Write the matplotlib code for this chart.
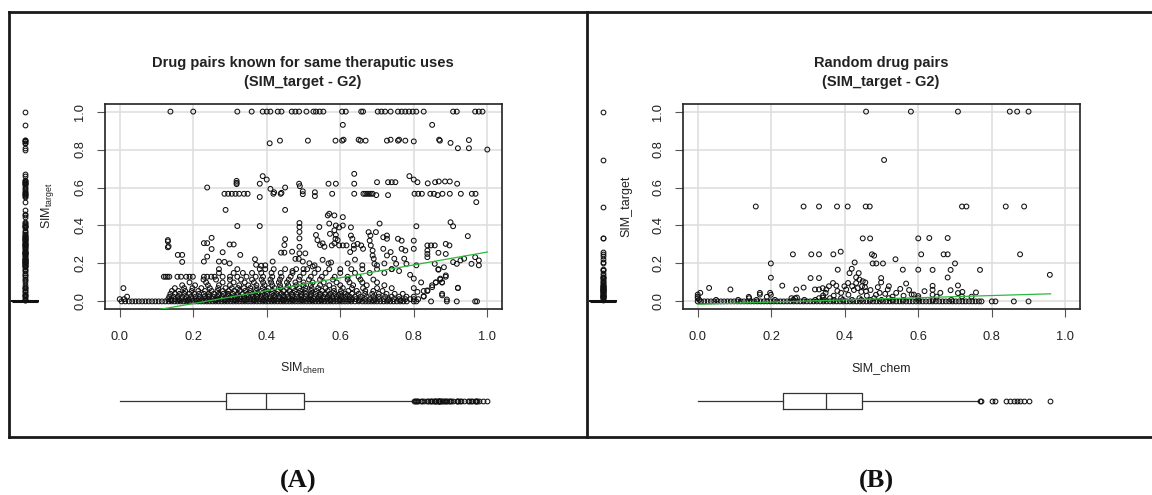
import numpy as np
import matplotlib.pyplot as plt
from matplotlib.lines import Line2D

plt.rcParams['font.family'] = ['Liberation Sans', 'DejaVu Sans']
plt.rcParams['mathtext.fontset'] = 'custom'
plt.rcParams['mathtext.rm'] = 'Liberation Sans'
plt.rcParams['mathtext.it'] = 'Liberation Sans'

# ---------------- data: panel A (known same therapeutic uses) ----------------
a_zero_x = [0.005, 0.015, 0.025, 0.034, 0.043, 0.052, 0.061, 0.070, 0.079, 0.088, 0.097, 0.106,
            0.115, 0.124, 0.133, 0.141, 0.149, 0.157, 0.165, 0.173, 0.181, 0.189, 0.197, 0.205,
            0.213, 0.221, 0.229, 0.237, 0.245, 0.253, 0.261, 0.269, 0.277, 0.285, 0.293, 0.301,
            0.309, 0.317, 0.325, 0.333, 0.341, 0.349, 0.357, 0.365, 0.373, 0.381, 0.389, 0.397,
            0.405, 0.413, 0.421, 0.429, 0.437, 0.445, 0.453, 0.461, 0.469, 0.477, 0.485, 0.493,
            0.501, 0.509, 0.517, 0.525, 0.533, 0.541, 0.549, 0.557, 0.565, 0.573, 0.581, 0.589,
            0.597, 0.605, 0.613, 0.621, 0.630, 0.640, 0.650, 0.660, 0.668, 0.676, 0.684, 0.692,
            0.700, 0.709, 0.718, 0.727, 0.736, 0.745, 0.754, 0.763, 0.772, 0.781, 0.800, 0.807,
            0.847, 0.890, 0.917, 0.967, 0.972]

a_band_y = [0.006, 0.012, 0.025, 0.033, 0.04, 0.055, 0.07, 0.085, 0.10, 0.115, 0.13, 0.15, 0.17]
a_band_x = [
    [0.140, 0.162, 0.185, 0.210, 0.236, 0.262, 0.288, 0.314, 0.340, 0.366, 0.392, 0.418, 0.444,
     0.470, 0.496, 0.522, 0.548, 0.574, 0.600, 0.626, 0.652, 0.690, 0.730, 0.765],
    [0.000, 0.012, 0.132, 0.140, 0.151, 0.160, 0.168, 0.179, 0.188, 0.196, 0.207, 0.215, 0.224,
     0.233, 0.241, 0.252, 0.260, 0.269, 0.278, 0.286, 0.295, 0.304, 0.312, 0.321, 0.330, 0.338,
     0.347, 0.356, 0.364, 0.373, 0.382, 0.390, 0.399, 0.408, 0.416, 0.425, 0.434, 0.442, 0.451,
     0.460, 0.468, 0.477, 0.486, 0.494, 0.503, 0.512, 0.520, 0.529, 0.538, 0.546, 0.555, 0.564,
     0.572, 0.581, 0.590, 0.598, 0.607, 0.616, 0.624, 0.633, 0.642, 0.655, 0.668, 0.680, 0.694,
     0.706, 0.719, 0.733, 0.746, 0.760, 0.777, 0.790, 0.800, 0.812],
    [0.020, 0.135, 0.146, 0.158, 0.170, 0.182, 0.194, 0.206, 0.218, 0.230, 0.242, 0.254, 0.266,
     0.278, 0.290, 0.302, 0.314, 0.326, 0.338, 0.350, 0.362, 0.374, 0.386, 0.398, 0.410, 0.422,
     0.434, 0.446, 0.458, 0.470, 0.482, 0.494, 0.506, 0.518, 0.530, 0.542, 0.554, 0.566, 0.578,
     0.590, 0.602, 0.614, 0.626, 0.640, 0.655, 0.672, 0.690, 0.705, 0.722, 0.740, 0.760, 0.780,
     0.800, 0.827],
    [0.245, 0.270, 0.295, 0.320, 0.345, 0.370, 0.395, 0.420, 0.445, 0.470, 0.495, 0.520, 0.545,
     0.570, 0.595, 0.620],
    [0.138, 0.150, 0.163, 0.176, 0.190, 0.203, 0.216, 0.229, 0.242, 0.256, 0.269, 0.282, 0.295,
     0.308, 0.322, 0.335, 0.348, 0.361, 0.374, 0.388, 0.401, 0.414, 0.427, 0.440, 0.454, 0.467,
     0.480, 0.493, 0.506, 0.520, 0.533, 0.546, 0.559, 0.572, 0.586, 0.600, 0.615, 0.632, 0.650,
     0.668, 0.687, 0.705, 0.726, 0.748, 0.770, 0.877],
    [0.142, 0.160, 0.178, 0.196, 0.214, 0.232, 0.250, 0.266, 0.281, 0.296, 0.311, 0.326, 0.341,
     0.356, 0.371, 0.386, 0.401, 0.416, 0.431, 0.446, 0.461, 0.476, 0.491, 0.506, 0.521, 0.536,
     0.551, 0.566, 0.583, 0.602, 0.622, 0.645, 0.668, 0.690, 0.715, 0.827, 0.837],
    [0.010, 0.150, 0.175, 0.198, 0.222, 0.245, 0.268, 0.288, 0.305, 0.322, 0.338, 0.355, 0.372,
     0.389, 0.405, 0.421, 0.438, 0.455, 0.472, 0.488, 0.505, 0.522, 0.540, 0.560, 0.582, 0.607,
     0.632, 0.662, 0.700, 0.740, 0.920],
    [0.170, 0.205, 0.240, 0.270, 0.300, 0.325, 0.350, 0.372, 0.394, 0.415, 0.436, 0.458, 0.480,
     0.500, 0.520, 0.545, 0.570, 0.600, 0.635, 0.672, 0.720, 0.850],
    [0.190, 0.235, 0.280, 0.310, 0.340, 0.365, 0.390, 0.412, 0.433, 0.455, 0.478, 0.500, 0.525,
     0.555, 0.590, 0.625, 0.660, 0.700, 0.860, 0.877],
    [0.228, 0.262, 0.300, 0.330, 0.360, 0.386, 0.410, 0.436, 0.460, 0.488, 0.515, 0.545, 0.580,
     0.620, 0.655, 0.690, 0.872],
    [0.120, 0.125, 0.130, 0.135, 0.157, 0.167, 0.181, 0.190, 0.199, 0.229, 0.238, 0.249, 0.258,
     0.280, 0.300, 0.320, 0.345, 0.370, 0.390, 0.415, 0.440, 0.465, 0.490, 0.520, 0.550, 0.585,
     0.620, 0.650, 0.887],
    [0.270, 0.310, 0.335, 0.360, 0.385, 0.413, 0.438, 0.470, 0.500, 0.530, 0.560, 0.600, 0.640,
     0.680, 0.720],
    [0.270, 0.320, 0.381, 0.396, 0.419, 0.450, 0.480, 0.510, 0.540, 0.570, 0.600, 0.630, 0.660,
     0.700, 0.740, 0.867],
]

a_top_x = [0.138, 0.200, 0.320, 0.359, 0.389, 0.400, 0.410, 0.430, 0.440, 0.468, 0.478, 0.488,
           0.508, 0.527, 0.534, 0.544, 0.554, 0.605, 0.615, 0.657, 0.662, 0.702, 0.712, 0.722,
           0.737, 0.757, 0.767, 0.777, 0.787, 0.797, 0.807, 0.827, 0.907, 0.917, 0.967, 0.977,
           0.987]

a_hi_pts = [
    (0.607, 0.930), (0.850, 0.930), (0.408, 0.833), (0.436, 0.847), (0.512, 0.847),
    (0.587, 0.847), (0.605, 0.847), (0.609, 0.852), (0.650, 0.852), (0.655, 0.847),
    (0.669, 0.847), (0.727, 0.847), (0.737, 0.852), (0.757, 0.847), (0.760, 0.852),
    (0.777, 0.847), (0.800, 0.843), (0.869, 0.852), (0.871, 0.847), (0.900, 0.835),
    (0.920, 0.807), (0.950, 0.850), (0.950, 0.807), (1.000, 0.800),
    (0.389, 0.660), (0.400, 0.642), (0.638, 0.672), (0.318, 0.635), (0.318, 0.625),
    (0.318, 0.618), (0.381, 0.620), (0.488, 0.620), (0.490, 0.607), (0.568, 0.620),
    (0.588, 0.620), (0.638, 0.620), (0.700, 0.628), (0.730, 0.628), (0.740, 0.628),
    (0.750, 0.628), (0.788, 0.660), (0.800, 0.642), (0.810, 0.628), (0.838, 0.622),
    (0.858, 0.628), (0.868, 0.632), (0.885, 0.632), (0.898, 0.632), (0.918, 0.620),
    (0.238, 0.600), (0.410, 0.593), (0.420, 0.575), (0.450, 0.600),
    (0.285, 0.567), (0.295, 0.567), (0.305, 0.567), (0.315, 0.567), (0.325, 0.567),
    (0.338, 0.567), (0.348, 0.567), (0.381, 0.550), (0.418, 0.567), (0.438, 0.567),
    (0.440, 0.572), (0.498, 0.580), (0.498, 0.565), (0.531, 0.575), (0.531, 0.555),
    (0.578, 0.567), (0.638, 0.567), (0.663, 0.567), (0.668, 0.567), (0.673, 0.567),
    (0.678, 0.567), (0.683, 0.567), (0.688, 0.567), (0.698, 0.560), (0.730, 0.560),
    (0.802, 0.567), (0.812, 0.567), (0.822, 0.567), (0.845, 0.567), (0.855, 0.567),
    (0.865, 0.560), (0.878, 0.567), (0.898, 0.567), (0.928, 0.567), (0.958, 0.567),
    (0.968, 0.567), (0.970, 0.523),
    (0.288, 0.482), (0.450, 0.482), (0.320, 0.397), (0.381, 0.397),
]

a_mid_pts = [
    (0.131, 0.323), (0.131, 0.316), (0.131, 0.285), (0.133, 0.290), (0.158, 0.245),
    (0.170, 0.245), (0.170, 0.208), (0.229, 0.307), (0.238, 0.307), (0.250, 0.335),
    (0.238, 0.236), (0.229, 0.210), (0.250, 0.276), (0.280, 0.259), (0.299, 0.300),
    (0.310, 0.300), (0.328, 0.245), (0.285, 0.208), (0.299, 0.200), (0.270, 0.210),
    (0.368, 0.222), (0.371, 0.193), (0.385, 0.188), (0.396, 0.190), (0.416, 0.210),
    (0.439, 0.257), (0.448, 0.257), (0.469, 0.262), (0.448, 0.297), (0.450, 0.328),
    (0.489, 0.413), (0.489, 0.392), (0.489, 0.366), (0.489, 0.332), (0.489, 0.288),
    (0.489, 0.253), (0.478, 0.224), (0.487, 0.224), (0.498, 0.210), (0.505, 0.253),
    (0.516, 0.201), (0.525, 0.184), (0.543, 0.392), (0.545, 0.297), (0.552, 0.306),
    (0.557, 0.288), (0.534, 0.350), (0.538, 0.323), (0.552, 0.219), (0.568, 0.200),
    (0.575, 0.205), (0.566, 0.453), (0.570, 0.462), (0.584, 0.453), (0.570, 0.410),
    (0.588, 0.400), (0.584, 0.375), (0.588, 0.350), (0.593, 0.323), (0.584, 0.306),
    (0.607, 0.444), (0.607, 0.400), (0.597, 0.390), (0.572, 0.356), (0.587, 0.330),
    (0.577, 0.295), (0.597, 0.295), (0.607, 0.295), (0.617, 0.295), (0.629, 0.390),
    (0.629, 0.347), (0.633, 0.330), (0.637, 0.295), (0.637, 0.277), (0.627, 0.260),
    (0.647, 0.303), (0.657, 0.295), (0.662, 0.277), (0.677, 0.365), (0.682, 0.347),
    (0.697, 0.365), (0.680, 0.320), (0.683, 0.295), (0.688, 0.268), (0.688, 0.242),
    (0.691, 0.225), (0.693, 0.198), (0.707, 0.410), (0.717, 0.338), (0.727, 0.347),
    (0.727, 0.330), (0.717, 0.277), (0.727, 0.242), (0.737, 0.260), (0.747, 0.225),
    (0.752, 0.198), (0.757, 0.330), (0.767, 0.320), (0.767, 0.277), (0.777, 0.268),
    (0.774, 0.225), (0.800, 0.320), (0.800, 0.277), (0.807, 0.396), (0.780, 0.198),
    (0.807, 0.190), (0.837, 0.295), (0.847, 0.295), (0.857, 0.295), (0.837, 0.268),
    (0.837, 0.250), (0.837, 0.233), (0.867, 0.256), (0.887, 0.303), (0.897, 0.295),
    (0.887, 0.250), (0.900, 0.417), (0.907, 0.396), (0.857, 0.198), (0.907, 0.207),
    (0.917, 0.198), (0.927, 0.216), (0.937, 0.225), (0.947, 0.344), (0.957, 0.198),
    (0.977, 0.216), (0.967, 0.233), (0.977, 0.190), (0.867, 0.167), (0.882, 0.180),
    (0.887, 0.137), (0.872, 0.120), (0.877, 0.100), (0.860, 0.100), (0.850, 0.075),
    (0.837, 0.058), (0.827, 0.028), (0.877, 0.032), (0.890, 0.010), (0.920, 0.072),
    (0.470, 0.160), (0.500, 0.170), (0.530, 0.190), (0.620, 0.200), (0.640, 0.220),
    (0.660, 0.190), (0.700, 0.190), (0.720, 0.200), (0.740, 0.170), (0.760, 0.160),
    (0.790, 0.140), (0.800, 0.120), (0.820, 0.100), (0.800, 0.070), (0.810, 0.050),
]

a_fit_x = [0.0, 1.0]
a_fit_y = [-0.079, 0.26]

# ---------------- data: panel B (random drug pairs) ----------------
b_zero_x = [0.000, 0.009, 0.018, 0.027, 0.036, 0.045, 0.054, 0.063, 0.072, 0.081, 0.090, 0.099,
            0.108, 0.117, 0.126, 0.135, 0.144, 0.153, 0.162, 0.171, 0.180, 0.189, 0.198, 0.207,
            0.216, 0.225, 0.234, 0.243, 0.252, 0.261, 0.270, 0.279, 0.288, 0.297, 0.306, 0.315,
            0.324, 0.333, 0.342, 0.351, 0.360, 0.369, 0.378, 0.387, 0.396, 0.405, 0.414, 0.423,
            0.432, 0.441, 0.450, 0.459, 0.468, 0.477, 0.486, 0.495, 0.504, 0.513, 0.522, 0.531,
            0.540, 0.549, 0.558, 0.567, 0.576, 0.585, 0.594, 0.603, 0.612, 0.621, 0.630, 0.639,
            0.648, 0.657, 0.666, 0.675, 0.684, 0.693, 0.702, 0.711, 0.720, 0.729, 0.738, 0.747,
            0.756, 0.765, 0.772, 0.800, 0.810, 0.860, 0.900]

b_band_y = [0.008, 0.017]
b_band_x = [
    [0.004, 0.050, 0.110, 0.160, 0.210, 0.260, 0.290, 0.320, 0.345, 0.370, 0.395, 0.420, 0.445,
     0.470, 0.500, 0.530, 0.560, 0.600, 0.640, 0.690],
    [0.000, 0.140, 0.255, 0.265, 0.330, 0.360, 0.390, 0.440, 0.480, 0.520, 0.600],
]

b_top_x = [0.458, 0.580, 0.708, 0.849, 0.869, 0.900]
b_half_x = [0.158, 0.288, 0.330, 0.379, 0.408, 0.457, 0.468, 0.719, 0.731, 0.838, 0.888]

b_pts = [
    (0.000, 0.036), (0.000, 0.025), (0.007, 0.045), (0.031, 0.071), (0.089, 0.063),
    (0.139, 0.024), (0.169, 0.045), (0.169, 0.036), (0.199, 0.200), (0.199, 0.125),
    (0.197, 0.045), (0.199, 0.035), (0.188, 0.024), (0.230, 0.083), (0.259, 0.248),
    (0.268, 0.063), (0.288, 0.073), (0.309, 0.248), (0.330, 0.248), (0.307, 0.123),
    (0.330, 0.123), (0.319, 0.063), (0.330, 0.063), (0.340, 0.070), (0.350, 0.063),
    (0.348, 0.045), (0.341, 0.031), (0.357, 0.080), (0.368, 0.097), (0.377, 0.083),
    (0.381, 0.167), (0.369, 0.248), (0.389, 0.262), (0.399, 0.080), (0.404, 0.063),
    (0.409, 0.097), (0.413, 0.149), (0.419, 0.172), (0.427, 0.205), (0.431, 0.127),
    (0.431, 0.097), (0.438, 0.149), (0.440, 0.115), (0.447, 0.080), (0.449, 0.106),
    (0.456, 0.100), (0.458, 0.054), (0.449, 0.332), (0.469, 0.332), (0.474, 0.248),
    (0.480, 0.241), (0.476, 0.200), (0.486, 0.200), (0.495, 0.045), (0.499, 0.123),
    (0.499, 0.100), (0.504, 0.200), (0.517, 0.063), (0.520, 0.080), (0.538, 0.222),
    (0.551, 0.066), (0.558, 0.167), (0.567, 0.094), (0.582, 0.036), (0.588, 0.036),
    (0.600, 0.332), (0.600, 0.167), (0.608, 0.248), (0.617, 0.054), (0.639, 0.082),
    (0.639, 0.061), (0.639, 0.035), (0.630, 0.334), (0.639, 0.166), (0.669, 0.248),
    (0.680, 0.248), (0.680, 0.334), (0.680, 0.126), (0.688, 0.166), (0.688, 0.059),
    (0.700, 0.200), (0.708, 0.084), (0.708, 0.044), (0.719, 0.026), (0.757, 0.047),
    (0.768, 0.166), (0.958, 0.140), (0.507, 0.745), (0.877, 0.248),
    (0.270, 0.020), (0.340, 0.020), (0.370, 0.030), (0.380, 0.055), (0.390, 0.045),
    (0.410, 0.035), (0.420, 0.080), (0.425, 0.060), (0.435, 0.070), (0.445, 0.050),
    (0.455, 0.075), (0.460, 0.030), (0.470, 0.060), (0.485, 0.035), (0.490, 0.075),
    (0.510, 0.040), (0.530, 0.025), (0.540, 0.045), (0.560, 0.030), (0.575, 0.060),
    (0.600, 0.028), (0.650, 0.025), (0.660, 0.045), (0.720, 0.050), (0.745, 0.025),
]

b_fit_x = [0.0, 0.96]
b_fit_y = [-0.015, 0.04]

# boxplot summaries of SIM_chem
a_chem_box = dict(whislo=0.0, q1=0.288, med=0.399, q3=0.50, whishi=0.798)
b_chem_box = dict(whislo=0.0, q1=0.231, med=0.35, q3=0.448, whishi=0.766)


def collect(zero_x, band_y, band_x, top_x, pts, extra_rows):
    xs = list(zero_x) + list(top_x)
    ys = [0.0] * len(zero_x) + [1.0] * len(top_x)
    for yv, row in zip(band_y, band_x):
        xs += row
        ys += [yv] * len(row)
    for yv, row in extra_rows:
        xs += row
        ys += [yv] * len(row)
    for group in pts:
        xs += [p[0] for p in group]
        ys += [p[1] for p in group]
    return np.array(xs), np.array(ys)


ax_pts_a = collect(a_zero_x, a_band_y, a_band_x, a_top_x, [a_hi_pts, a_mid_pts], [])
ax_pts_b = collect(b_zero_x, b_band_y, b_band_x, b_top_x, [b_pts], [(0.5, b_half_x)])

W, H = 1152, 495
fig = plt.figure(figsize=(W / 100, H / 100), dpi=100)


def frac(x0, y0, x1, y1):
    # pixel box (top-left origin) -> figure rect
    return [x0 / W, 1 - y1 / H, (x1 - x0) / W, (y1 - y0) / H]


TXT = '#222222'
ticks = [0.0, 0.2, 0.4, 0.6, 0.8, 1.0]
lims = (-0.04, 1.04)
flier = dict(marker='o', markerfacecolor='none', markeredgecolor='#111111',
             markersize=3.4, markeredgewidth=0.75)
line = dict(color='#333333', linewidth=0.9)


def panel(x0, xs, ys, fit_x, fit_y, title, ylab, xlab, chem_box):
    ax = fig.add_axes(frac(x0, 104, x0 + 397, 309))
    ax.scatter(xs, ys, s=12, facecolors='none', edgecolors='#111111', linewidths=0.75, zorder=3)
    ax.plot(fit_x, fit_y, color='#2db83d', lw=0.9, zorder=4)
    ax.set_xlim(*lims)
    ax.set_ylim(*lims)
    ax.set_xticks(ticks)
    ax.set_yticks(ticks)
    ax.set_xticklabels(['%.1f' % t for t in ticks])
    ax.set_yticklabels(['%.1f' % t for t in ticks], rotation=90, va='center')
    ax.grid(color='#dddddd', lw=1.1)
    ax.set_axisbelow(True)
    ax.tick_params(length=5.5, width=0.8, color='#555555', labelsize=9.3, labelcolor=TXT)
    ax.tick_params(axis='x', pad=10)
    ax.tick_params(axis='y', pad=8)
    for s in ax.spines.values():
        s.set_color('#222222')
        s.set_linewidth(1.2)

    cx = x0 + 198
    fig.text(cx / W, 1 - 63 / H, title[0], ha='center', va='center',
             fontsize=10.5, fontweight='bold', color=TXT)
    fig.text(cx / W, 1 - 82 / H, title[1], ha='center', va='center',
             fontsize=10.5, fontweight='bold', color=TXT)
    fig.text((x0 - 57) / W, 1 - 206 / H, ylab, rotation=90, ha='center', va='center',
             fontsize=9, color=TXT)
    fig.text(cx / W, 1 - 368 / H, xlab, ha='center', va='center', fontsize=9, color=TXT)

    # marginal boxplot of SIM_chem (below)
    bx = fig.add_axes(frac(x0, 385, x0 + 397, 417))
    st = dict(chem_box)
    st['fliers'] = np.unique(xs[xs > chem_box['whishi']])
    bx.bxp([st], positions=[0.5], widths=[0.53], orientation='horizontal', showcaps=False,
           boxprops=line, whiskerprops=line, medianprops=line, flierprops=flier)
    bx.set_xlim(*lims)
    bx.set_ylim(0, 1)
    bx.axis('off')

    # marginal boxplot of SIM_target (left)
    lx = fig.add_axes(frac(x0 - 105, 104, x0 - 55, 309))
    st = dict(whislo=0.0, q1=0.0, med=0.0, q3=0.0, whishi=0.0,
              fliers=np.unique(ys[ys > 0]))
    lx.bxp([st], positions=[0.5], widths=[0.52], showcaps=False,
           boxprops=dict(color='#111111', linewidth=1.4),
           whiskerprops=line, medianprops=dict(color='#111111', linewidth=2.2),
           flierprops=flier)
    lx.set_xlim(0, 1)
    lx.set_ylim(*lims)
    lx.axis('off')


panel(105, *ax_pts_a, a_fit_x, a_fit_y,
      ('Drug pairs known for same theraputic uses', '(SIM_target - G2)'),
      r'SIM$_{\mathrm{target}}$', r'SIM$_{\mathrm{chem}}$', a_chem_box)
panel(683, *ax_pts_b, b_fit_x, b_fit_y,
      ('Random drug pairs', '(SIM_target - G2)'),
      'SIM_target', 'SIM_chem', b_chem_box)


# panel frames
def seg(x0, y0, x1, y1):
    fig.add_artist(Line2D([x0 / W, x1 / W], [1 - y0 / H, 1 - y1 / H],
                          transform=fig.transFigure, color='#1a1a1a', lw=2.0))


seg(9, 12, 1152, 12)
seg(9, 437, 1152, 437)
seg(9, 12, 9, 437)
seg(587, 12, 587, 437)

for lab, cx in (('(A)', 298), ('(B)', 876)):
    fig.text(cx / W, 1 - 481 / H, lab, ha='center', va='center', fontsize=19,
             fontweight='bold', family='Liberation Serif', color='#111111')

fig.savefig('out.png', dpi=100)
